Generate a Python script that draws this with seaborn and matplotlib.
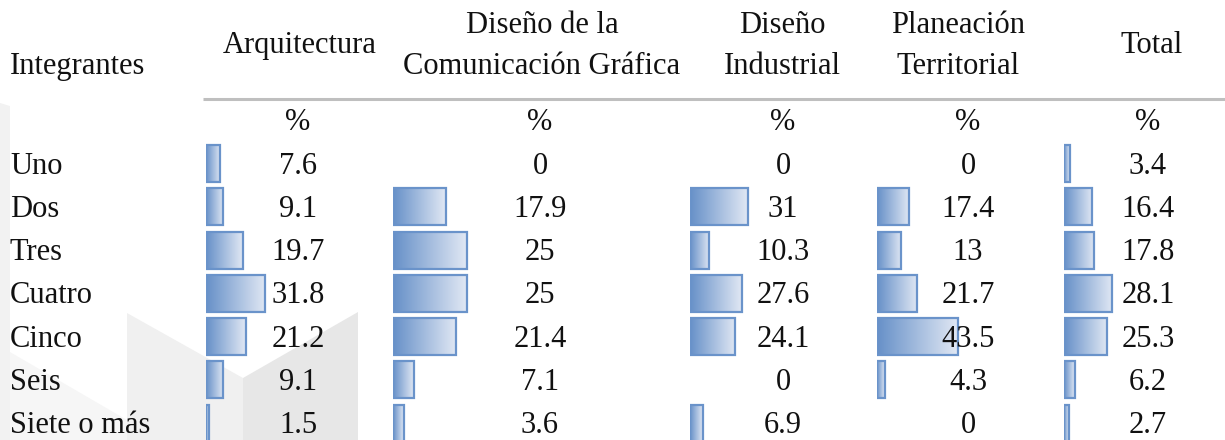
import numpy as np
import pandas as pd
import matplotlib
matplotlib.use("Agg")
import matplotlib.pyplot as plt
import seaborn as sns
from matplotlib.colors import LinearSegmentedColormap
from matplotlib.patches import Polygon

# ---------------- data ----------------
categories = ["Uno", "Dos", "Tres", "Cuatro", "Cinco", "Seis", "Siete o más"]
column_headers = ["Arquitectura", "Diseño de la\nComunicación Gráfica", "Diseño\nIndustrial",
                  "Planeación\nTerritorial", "Total"]
arquitectura = [7.6, 9.1, 19.7, 31.8, 21.2, 9.1, 1.5]
comunicacion = [0, 17.9, 25, 25, 21.4, 7.1, 3.6]
industrial = [0, 31, 10.3, 27.6, 24.1, 0, 6.9]
planeacion = [0, 17.4, 13, 21.7, 43.5, 4.3, 0]
total = [3.4, 16.4, 17.8, 28.1, 25.3, 6.2, 2.7]
value_labels = [
    ["7.6", "9.1", "19.7", "31.8", "21.2", "9.1", "1.5"],
    ["0", "17.9", "25", "25", "21.4", "7.1", "3.6"],
    ["0", "31", "10.3", "27.6", "24.1", "0", "6.9"],
    ["0", "17.4", "13", "21.7", "43.5", "4.3", "0"],
    ["3.4", "16.4", "17.8", "28.1", "25.3", "6.2", "2.7"],
]
row_header = "Integrantes"
unit_label = "%"
series = [arquitectura, comunicacion, industrial, planeacion, total]

# ---------------- layout / style ----------------
W, H = 1225, 440
sns.set_theme(style="white")
plt.rcParams['font.family'] = ['Liberation Serif', 'DejaVu Serif']
FS = 22
TXT = "#111111"

bar_left = [206, 393, 690, 877, 1064]          # px
px_per_unit = [1.87, 2.95, 1.87, 1.86, 1.71]   # data-bar scale of each column
col_center = [298, 540, 783, 968, 1148]
head_center = [300, 542, 782, 958, 1152]
row0, pitch = 163.5, 43.3
AXW = 130

c_left = "#6690c8"
c_right = "#e1e8f4"
edge = "#6a93ca"
cmap = LinearSegmentedColormap.from_list("databar", [c_left, c_right])

fig = plt.figure(figsize=(W / 100, H / 100), dpi=100)
fig.patch.set_facecolor("white")

# background (watermark)
bg = fig.add_axes([0, 0, 1, 1], zorder=0)
bg.set_xlim(0, W)
bg.set_ylim(H, 0)
bg.axis("off")
for pts, col in [
    ([(0, 103), (10, 106), (10, 440), (0, 440)], "#f2f2f2"),
    ([(10, 352), (127, 420), (127, 440), (10, 440)], "#f6f6f6"),
    ([(127, 313), (243, 378), (243, 440), (127, 440)], "#f0f0f0"),
    ([(243, 378), (358, 312), (358, 440), (243, 440)], "#e7e7e7"),
]:
    bg.add_patch(Polygon(pts, closed=True, facecolor=col, edgecolor="none"))
bg.plot([203, W], [99, 99], color="#bfbfbf", lw=2.2, solid_capstyle="butt")

# data bars, one axes per column
ax_top = row0 - pitch / 2
ax_h = pitch * len(categories)
for k, vals in enumerate(series):
    ax = fig.add_axes([bar_left[k] / W, 1 - (ax_top + ax_h) / H, AXW / W, ax_h / H], zorder=1)
    df = pd.DataFrame({"cat": categories, "val": vals})
    sns.barplot(data=df, x="val", y="cat", orient="h", ax=ax, width=37 / pitch,
                color=c_left, edgecolor=edge, linewidth=1.6, saturation=1)
    grad = np.linspace(0, 1, 256).reshape(1, -1)
    for p in ax.patches:
        w = p.get_width()
        if w <= 0:
            p.set_linewidth(0)
            p.set_visible(False)
            continue
        x0, y0, h = p.get_x(), p.get_y(), p.get_height()
        ax.imshow(grad, cmap=cmap, extent=[x0, x0 + w, y0 + h, y0], aspect="auto",
                  zorder=1, interpolation="bilinear")
        p.set_facecolor("none")
        p.set_zorder(2)
    ax.set_xlim(0, AXW / px_per_unit[k])
    ax.set_ylim(len(categories) - 0.5, -0.5)
    ax.axis("off")

# text overlay
tx = fig.add_axes([0, 0, 1, 1], zorder=5)
tx.set_xlim(0, W)
tx.set_ylim(H, 0)
tx.axis("off")
tx.patch.set_alpha(0)

tx.text(10, 74, row_header, fontsize=FS, color=TXT, ha="left", va="baseline")
for k, head in enumerate(column_headers):
    lines = head.split("\n")
    base = [53] if len(lines) == 1 else [33, 74]
    for line, b in zip(lines, base):
        tx.text(head_center[k], b, line, fontsize=FS, color=TXT, ha="center", va="baseline")
    tx.text(col_center[k], 130, unit_label, fontsize=FS, color=TXT, ha="center", va="baseline")

for i, cat in enumerate(categories):
    yb = row0 + pitch * i + 10
    tx.text(10, yb, cat, fontsize=FS, color=TXT, ha="left", va="baseline")
    for k in range(len(series)):
        tx.text(col_center[k], yb, value_labels[k][i], fontsize=FS, color=TXT,
                ha="center", va="baseline")

fig.savefig("out.png", dpi=100, facecolor="white")
